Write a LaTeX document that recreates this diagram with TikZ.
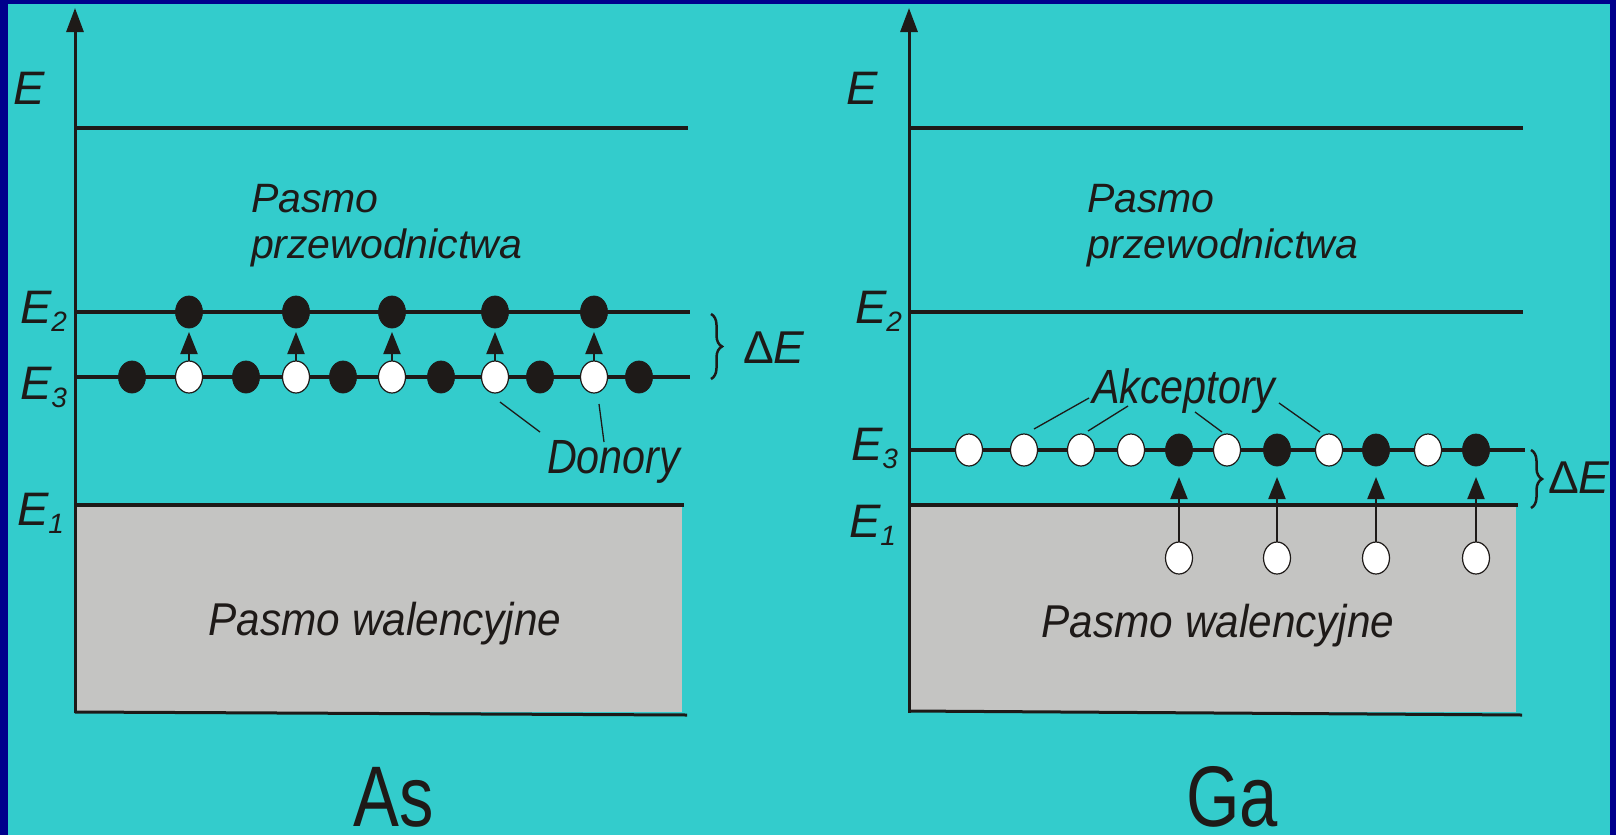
\documentclass[tikz,border=0pt]{standalone}
\usepackage{fontspec}
\setmainfont{Liberation Sans}
\newfontfamily\narrowfont[FakeStretch=0.86]{Liberation Sans}
\newfontfamily\condfont[FakeStretch=0.8]{Liberation Sans}
\newfontfamily\valfont[FakeStretch=0.92]{Liberation Sans}
\usetikzlibrary{arrows.meta,decorations.pathreplacing,shapes.geometric}
\definecolor{navybg}{RGB}{0,0,140}
\definecolor{cyanbg}{RGB}{51,204,204}
\definecolor{bandgrey}{RGB}{196,196,194}
\definecolor{ink}{RGB}{30,26,24}
\newcommand{\Elev}[1]{E\raisebox{-8pt}{\fontsize{28}{30}\selectfont #1}}
\begin{document}
\begin{tikzpicture}[x=1pt,y=-1pt,
  every node/.style={inner sep=0pt,outer sep=0pt,text=ink},
  level/.style={draw=ink,line width=4pt},
  axisline/.style={draw=ink,line width=3pt,-{Triangle[length=24pt,width=17pt]}},
  bdot/.style={ellipse,minimum width=27pt,minimum height=32pt,fill=ink,draw=ink,line width=0.8pt},
  wdot/.style={ellipse,minimum width=27pt,minimum height=32pt,fill=white,draw=ink,line width=1.2pt},
  jump/.style={draw=ink,line width=2pt,-{Triangle[length=22pt,width=17pt]}},
  pointer/.style={draw=ink,line width=1.3pt},
  brace/.style={draw=ink,line width=2.5pt,decorate,decoration={brace,amplitude=11pt}},
  elbl/.style={font=\fontsize{47}{50}\selectfont\itshape,anchor=base west},
  band/.style={font=\fontsize{41}{48}\selectfont\itshape,anchor=base west},
  valence/.style={font=\valfont\fontsize{46}{50}\selectfont\itshape,anchor=base},
  callout/.style={font=\narrowfont\fontsize{48}{52}\selectfont\itshape,anchor=base west},
  delta/.style={font=\fontsize{46}{50}\selectfont,anchor=base west},
  elem/.style={font=\condfont\fontsize{86}{90}\selectfont,anchor=base}]
% background
\fill[navybg] (0,0) rectangle (1616,835);
\fill[cyanbg] (8,4) rectangle (1610,835);
\useasboundingbox (0,0) rectangle (1616,835);

% ================= LEFT PANEL (As) =================
\fill[bandgrey] (75,505) rectangle (682,712);
\coordinate (lax0) at (75,713);
\coordinate (lax1) at (75,8);
\draw[axisline] (lax0) -- (lax1);
\coordinate (lt0) at (75,128);  \coordinate (lt1) at (688,128);
\coordinate (l20) at (75,312);  \coordinate (l21) at (690,312);
\coordinate (l30) at (75,377);  \coordinate (l31) at (690,377);
\coordinate (l10) at (75,505);  \coordinate (l11) at (684,505);
\coordinate (lb0) at (75,712);  \coordinate (lb1) at (687,715);
\draw[level] (lt0) -- (lt1);
\draw[level] (l20) -- (l21);
\draw[level] (l30) -- (l31);
\draw[level] (l10) -- (l11);
\draw[draw=ink,line width=3pt] (lb0) -- (lb1);

\node[elbl] (lE) at (13,104) {E};
\node[elbl] (lE2) at (20,323) {\Elev{2}};
\node[elbl] (lE3) at (20,399) {\Elev{3}};
\node[elbl] (lE1) at (17,525) {\Elev{1}};

\node[band] (lpc1) at (251,212) {Pasmo};
\node[band] (lpc2) at (251,258) {przewodnictwa};
\node[valence] (lval) at (385,635) {Pasmo walencyjne};

% donor level dots
\node[bdot] (ld1) at (132,377) {};
\node[wdot] (ld2) at (189,377) {};
\node[bdot] (ld3) at (246,377) {};
\node[wdot] (ld4) at (296,377) {};
\node[bdot] (ld5) at (343,377) {};
\node[wdot] (ld6) at (392,377) {};
\node[bdot] (ld7) at (441,377) {};
\node[wdot] (ld8) at (495,377) {};
\node[bdot] (ld9) at (540,377) {};
\node[wdot] (ld10) at (594,377) {};
\node[bdot] (ld11) at (639,377) {};
% conduction electrons
\node[bdot] (le1) at (189,312) {};
\node[bdot] (le2) at (296,312) {};
\node[bdot] (le3) at (392,312) {};
\node[bdot] (le4) at (495,312) {};
\node[bdot] (le5) at (594,312) {};
\draw[jump,shorten >=4pt] (ld2.north) -- (le1.south);
\draw[jump,shorten >=4pt] (ld4.north) -- (le2.south);
\draw[jump,shorten >=4pt] (ld6.north) -- (le3.south);
\draw[jump,shorten >=4pt] (ld8.north) -- (le4.south);
\draw[jump,shorten >=4pt] (ld10.north) -- (le5.south);

\node[callout] (don) at (547,473) {Donory};
\coordinate (dp1) at (540,432);
\coordinate (dp2) at (604,442);
\coordinate (dq1) at (500,402);
\coordinate (dq2) at (599,404);
\draw[pointer] (dp1) -- (dq1);
\draw[pointer] (dp2) -- (dq2);

\coordinate (lbr0) at (711,314);
\coordinate (lbr1) at (711,379);
\draw[brace] (lbr0) -- (lbr1);
\node[delta] (ldE) at (743,363) {Δ\textit{E}};

\node[elem] (as) at (394,826) {As};

% ================= RIGHT PANEL (Ga) =================
\fill[bandgrey] (909,505) rectangle (1516,712);
\coordinate (rax0) at (909,713);
\coordinate (rax1) at (909,8);
\draw[axisline] (rax0) -- (rax1);
\coordinate (rt0) at (909,128);  \coordinate (rt1) at (1523,128);
\coordinate (r20) at (909,312);  \coordinate (r21) at (1523,312);
\coordinate (r30) at (909,450);  \coordinate (r31) at (1525,450);
\coordinate (r10) at (909,505);  \coordinate (r11) at (1518,505);
\coordinate (rb0) at (909,711);  \coordinate (rb1) at (1522,715);
\draw[level] (rt0) -- (rt1);
\draw[level] (r20) -- (r21);
\draw[level] (r30) -- (r31);
\draw[level] (r10) -- (r11);
\draw[draw=ink,line width=3pt] (rb0) -- (rb1);

\node[elbl] (rE) at (846,104) {E};
\node[elbl] (rE2) at (855,323) {\Elev{2}};
\node[elbl] (rE3) at (851,460) {\Elev{3}};
\node[elbl] (rE1) at (849,537) {\Elev{1}};

\node[band] (rpc1) at (1087,212) {Pasmo};
\node[band] (rpc2) at (1087,258) {przewodnictwa};
\node[valence] (rval) at (1218,637) {Pasmo walencyjne};

% acceptor level dots
\node[wdot] (ra1) at (969,450) {};
\node[wdot] (ra2) at (1024,450) {};
\node[wdot] (ra3) at (1081,450) {};
\node[wdot] (ra4) at (1131,450) {};
\node[bdot] (ra5) at (1179,450) {};
\node[wdot] (ra6) at (1227,450) {};
\node[bdot] (ra7) at (1277,450) {};
\node[wdot] (ra8) at (1329,450) {};
\node[bdot] (ra9) at (1376,450) {};
\node[wdot] (ra10) at (1428,450) {};
\node[bdot] (ra11) at (1476,450) {};
% holes left in valence band
\node[wdot] (rh1) at (1179,558) {};
\node[wdot] (rh2) at (1277,558) {};
\node[wdot] (rh3) at (1376,558) {};
\node[wdot] (rh4) at (1476,558) {};
\draw[jump,shorten >=11pt] (rh1.north) -- (ra5.south);
\draw[jump,shorten >=11pt] (rh2.north) -- (ra7.south);
\draw[jump,shorten >=11pt] (rh3.north) -- (ra9.south);
\draw[jump,shorten >=11pt] (rh4.north) -- (ra11.south);

\node[callout] (akc) at (1092,403) {Akceptory};
\coordinate (ap1) at (1089,398);
\coordinate (ap2) at (1128,406);
\coordinate (ap3) at (1195,412);
\coordinate (ap4) at (1279,403);
\coordinate (aq1) at (1034,429);
\coordinate (aq2) at (1088,431);
\coordinate (aq3) at (1222,432);
\coordinate (aq4) at (1320,432);
\draw[pointer] (ap1) -- (aq1);
\draw[pointer] (ap2) -- (aq2);
\draw[pointer] (ap3) -- (aq3);
\draw[pointer] (ap4) -- (aq4);

\coordinate (rbr0) at (1531,450);
\coordinate (rbr1) at (1531,508);
\draw[brace] (rbr0) -- (rbr1);
\node[delta] (rdE) at (1548,493) {Δ\textit{E}};

\node[elem] (ga) at (1232,826) {Ga};
\end{tikzpicture}
\end{document}
